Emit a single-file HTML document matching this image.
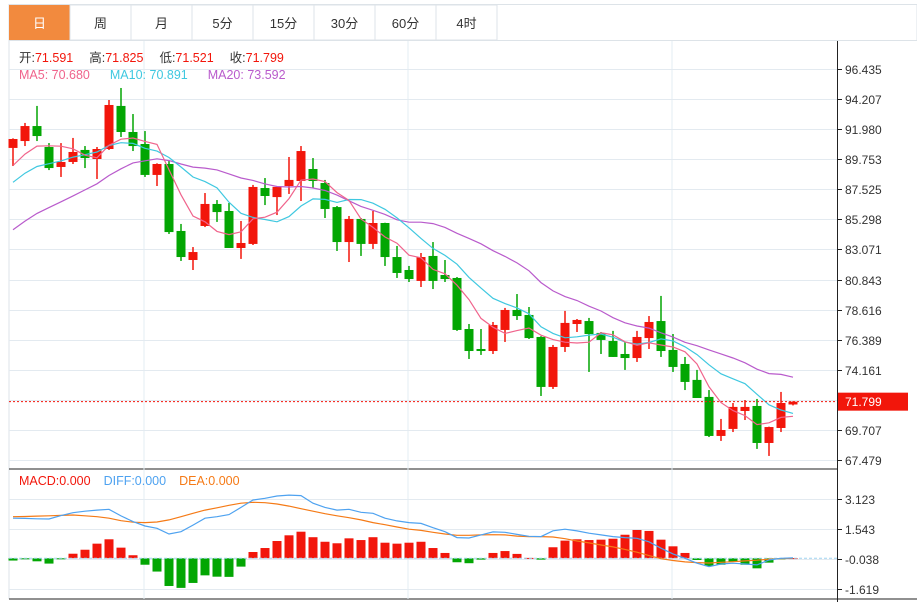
<!DOCTYPE html>
<html><head><meta charset="utf-8"><style>
body{margin:0;background:#fff;font-family:"Liberation Sans","Noto Sans CJK SC",sans-serif;}
svg{display:block}
</style></head><body>
<svg id="c" width="917" height="602" xmlns="http://www.w3.org/2000/svg" font-family="Liberation Sans, Noto Sans CJK SC, sans-serif">
</svg>
<script>
const tabs=["日","周","月","5分","15分","30分","60分","4时"];
const priceTicks=[96.435,94.207,91.980,89.753,87.525,85.298,83.071,80.843,78.616,76.389,74.161,71.934,69.707,67.479];
const macdTicks=[3.123,1.543,-0.038,-1.619];
const priorCloses=[79.5,80,80.5,81,81.5,81,81.5,81.5,81.8,81.9,85.5,86.5,87,87.5,87.5,88,88.5,89,89.7];
const opens=[90.59,91.10,92.21,90.66,89.18,89.55,90.44,89.77,90.51,93.70,91.77,90.88,88.59,89.40,84.44,82.29,84.81,86.44,85.92,83.18,83.48,87.62,86.95,87.77,88.14,89.03,87.99,86.21,83.62,85.33,83.48,85.03,82.51,81.55,80.74,82.59,81.18,80.96,77.18,75.70,75.55,77.11,78.59,78.22,76.59,72.89,75.85,77.55,77.77,76.89,76.29,75.33,75.03,76.51,77.77,75.63,74.59,73.41,72.15,69.26,69.78,71.11,71.48,68.74,69.85,71.591];
const highs=[91.30,92.44,93.70,90.95,90.95,91.33,90.73,90.66,94.14,95.03,93.10,91.84,89.45,89.62,84.96,83.25,87.25,86.73,86.51,85.18,87.85,88.36,87.75,89.92,90.73,89.84,88.22,86.29,85.55,85.40,85.92,85.05,83.33,81.85,82.81,83.62,82.29,81.03,77.55,77.18,77.70,78.74,79.77,78.81,76.65,76.00,78.52,77.92,78.00,76.96,77.04,76.22,77.04,78.14,79.63,76.81,75.11,74.15,72.66,70.52,71.70,71.92,72.00,69.95,72.52,71.825];
const lows=[89.25,90.73,91.10,88.95,88.44,89.40,89.10,88.29,90.44,91.40,90.36,88.44,87.77,84.22,82.22,81.55,84.73,85.11,83.18,82.37,83.40,86.36,85.62,87.18,86.66,87.62,85.40,82.96,82.14,82.59,83.11,81.85,80.96,80.66,80.29,80.14,80.66,77.04,74.96,75.26,75.33,76.22,77.85,76.44,72.22,72.74,75.48,76.96,74.00,75.33,75.11,74.15,74.74,75.70,75.11,74.00,72.66,72.07,69.18,68.89,69.55,70.44,68.30,67.78,69.55,71.521];
const closes=[91.25,92.21,91.47,89.10,89.55,90.29,89.84,90.51,93.77,91.77,90.73,88.59,89.40,84.36,82.51,82.88,86.44,85.84,83.18,83.55,87.70,87.03,87.70,88.22,90.36,88.14,86.07,83.62,85.33,83.48,85.03,82.51,81.33,80.88,82.51,80.74,80.88,77.11,75.55,75.55,77.48,78.59,78.14,76.51,72.89,75.85,77.63,77.85,76.81,76.37,75.11,75.03,76.59,77.70,75.55,74.37,73.26,72.07,69.26,69.70,71.41,71.41,68.74,69.92,71.70,71.799];
const macdHist=[-0.12,-0.03,-0.16,-0.28,-0.02,0.24,0.45,0.77,1.00,0.56,0.16,-0.34,-0.70,-1.46,-1.56,-1.30,-0.90,-0.97,-0.98,-0.44,0.33,0.54,0.91,1.21,1.40,1.11,0.87,0.79,1.05,0.96,1.11,0.82,0.77,0.82,0.87,0.54,0.28,-0.21,-0.26,-0.07,0.28,0.38,0.23,0.02,-0.07,0.58,0.93,1.00,0.96,0.98,1.03,1.24,1.49,1.44,0.98,0.63,0.28,-0.09,-0.41,-0.34,-0.19,-0.34,-0.53,-0.23,-0.01,0.01];
const diffLine=[2.11,2.10,2.08,2.07,2.25,2.40,2.48,2.54,2.58,2.23,1.93,1.70,1.58,1.28,1.40,1.75,2.11,2.19,2.30,2.68,3.07,3.16,3.28,3.33,3.30,2.90,2.68,2.54,2.58,2.42,2.37,2.11,1.97,1.88,1.84,1.61,1.40,1.09,1.07,1.23,1.39,1.37,1.26,1.16,1.14,1.45,1.53,1.44,1.32,1.23,1.14,1.09,1.05,0.87,0.53,0.23,0.00,-0.26,-0.44,-0.30,-0.26,-0.30,-0.35,-0.09,0.00,0.02];
const deaLine=[2.19,2.20,2.22,2.24,2.26,2.28,2.24,2.19,2.11,1.98,1.90,1.88,1.91,2.02,2.19,2.37,2.54,2.66,2.79,2.90,2.95,2.93,2.86,2.75,2.61,2.48,2.35,2.24,2.14,2.02,1.88,1.77,1.65,1.53,1.47,1.37,1.28,1.21,1.21,1.23,1.24,1.23,1.17,1.14,1.14,1.12,1.03,0.91,0.81,0.70,0.60,0.47,0.32,0.14,-0.02,-0.12,-0.19,-0.23,-0.25,-0.21,-0.18,-0.14,-0.10,-0.05,-0.02,0.00];

const svg=document.getElementById('c');
const NS='http://www.w3.org/2000/svg';
function mk(tag,attrs,parent,text){const e=document.createElementNS(NS,tag);for(const k in attrs)e.setAttribute(k,attrs[k]);if(text!==undefined)e.textContent=text;(parent||svg).appendChild(e);return e;}
const L=9,R=837,TOP=41,MID=469,BOT=599;
const RED='#f2160b',GREEN='#03a603';
const pTop=96.435,pBot=67.479,yTop=69,yBot=460;
function py(p){return yTop+(pTop-p)*(yBot-yTop)/(pTop-pBot);}
const mTop=3.123,mBot=-1.619,myTop=499,myBot=589;
function my(v){return myTop+(mTop-v)*(myBot-myTop)/(mTop-mBot);}
function cx(i){return 13+12*i;}

const tg=mk('g',{});
mk('rect',{x:9,y:4.5,width:908,height:36,fill:'#fff',stroke:'#dde3e8'},tg);
tabs.forEach((t,i)=>{const x=9+61*i;
 const g=mk('g',{},tg);
 
 
 mk('rect',{x:x,y:5,width:61,height:35,fill:i===0?'#f28a3e':'#fff',stroke:i===0?'none':'#dde3e8'},g);
 mk('text',{x:x+30.5,y:28,'text-anchor':'middle','font-size':13,fill:i===0?'#fff':'#333'},g,t);});

mk('line',{x1:L,y1:TOP,x2:L,y2:BOT,stroke:'#dde3e8'});
mk('line',{x1:L,y1:MID,x2:R,y2:MID,stroke:'#222'});
mk('line',{x1:L,y1:BOT,x2:917,y2:BOT,stroke:'#222'});
mk('line',{x1:R+0.5,y1:TOP,x2:R+0.5,y2:BOT+3,stroke:'#222'});
[144,408,672].forEach(x=>{mk('line',{x1:x,y1:TOP,x2:x,y2:BOT,stroke:'#e3edf3'});});
const ax=mk('g',{});
priceTicks.forEach(p=>{const y=Math.round(py(p))+0.5;
 mk('line',{x1:L,y1:y,x2:R,y2:y,stroke:'#e3eaf0'});
 mk('line',{x1:R,y1:y,x2:R+5,y2:y,stroke:'#222'},ax);
 mk('text',{x:845,y:y+4.5,'font-size':12,fill:'#333'},ax,p.toFixed(3));});
macdTicks.forEach(v=>{const y=Math.round(my(v))+0.5;
 mk('line',{x1:L,y1:y,x2:R,y2:y,stroke:'#e3eaf0'});
 mk('line',{x1:R,y1:y,x2:R+5,y2:y,stroke:'#222'},ax);
 mk('text',{x:845,y:y+4.5,'font-size':12,fill:'#333'},ax,v.toFixed(3));});

const all=priorCloses.concat(closes),off=priorCloses.length;
function ma(n){return closes.map((c,i)=>{let s=0;for(let k=0;k<n;k++)s+=all[off+i-k];return s/n;});}
function line(vals,color,name,yf){const pl=mk('polyline',{points:vals.map((v,i)=>cx(i)+','+yf(v).toFixed(1)).join(' '),fill:'none',stroke:color,'stroke-width':1.2});
 }

const cg=mk('g',{});
closes.forEach((c,i)=>{const o=opens[i],up=c>=o,col=up?RED:GREEN,x=cx(i);
 const g=mk('g',{},cg);
 
 
 mk('line',{x1:x,y1:py(highs[i]),x2:x,y2:py(lows[i]),stroke:col,'stroke-width':1.5},g);
 const t=py(Math.max(o,c)),b=py(Math.min(o,c));
 mk('rect',{x:x-4.5,y:t,width:9,height:Math.max(1.5,b-t),fill:col},g);});
line(ma(20),'#b95bcc','ma20-line',py);
line(ma(10),'#3fc8e0','ma10-line',py);
line(ma(5),'#f0648c','ma5-line',py);

const last=closes[closes.length-1],ly=py(last);
const lp=mk('line',{x1:L,y1:ly,x2:R,y2:ly,stroke:'#f2160b','stroke-dasharray':'2,2'});

mk('rect',{x:R+1,y:ly-9,width:70,height:18,fill:'#f2160b'});
const lt=mk('text',{x:845,y:ly+4.5,'font-size':12,fill:'#fff'},svg,last.toFixed(3));


const zy=my(0);
const mg=mk('g',{});
macdHist.forEach((h,i)=>{const y=my(h);const r=mk('rect',{x:cx(i)-4.5,y:Math.min(y,zy),width:9,height:Math.max(1,Math.abs(y-zy)),fill:h>=0?RED:GREEN},mg);
 });
mk('line',{x1:L,y1:zy,x2:R,y2:zy,stroke:'#9fd3f0','stroke-dasharray':'3,2'});
line(deaLine,'#f57a16','dea-line',my);
line(diffLine,'#4ea2f0','diff-line',my);

function legend(y,items,name){const t=mk('text',{x:19,y:y,'font-size':12.5},svg);
 items.forEach(([s,c],i)=>{const sp=mk('tspan',{fill:c},t,s);if(i>0&&items[i-1][2])sp.setAttribute('dx',items[i-1][2]);});}
legend(62,[['开:','#333'],['71.591','#f2160b',16],['高:','#333'],['71.825','#f2160b',16],['低:','#333'],['71.521','#f2160b',16],['收:','#333'],['71.799','#f2160b']],'ohlc-legend');
legend(79,[['MA5: 70.680','#f0648c',20],['MA10: 70.891','#3fc8e0',20],['MA20: 73.592','#b95bcc']],'ma-legend');
legend(485,[['MACD:0.000','#f2160b',13],['DIFF:0.000','#4ea2f0',13],['DEA:0.000','#f57a16']],'macd-legend');
</script>
</body></html>
